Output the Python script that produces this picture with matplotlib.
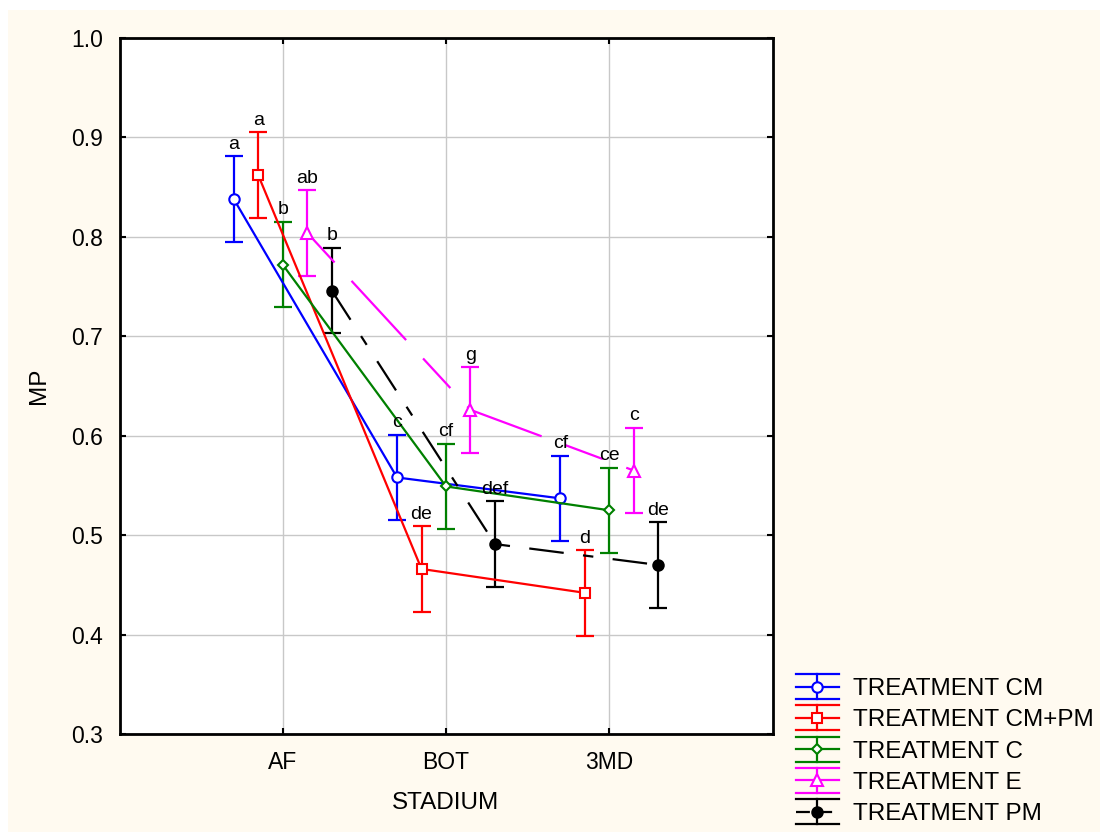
#!/usr/bin/env python3
"""MP by stadium for five treatments, means with error bars and group letters."""

import matplotlib

matplotlib.use("Agg")
import matplotlib.pyplot as plt
from matplotlib.legend_handler import HandlerBase
from matplotlib.lines import Line2D
from matplotlib.patches import Rectangle

plt.rcParams["font.family"] = ["Liberation Sans", "DejaVu Sans"]
plt.rcParams["lines.scale_dashes"] = False

STADIA = ["AF", "BOT", "3MD"]
TREATMENTS = ["TREATMENT CM", "TREATMENT CM+PM", "TREATMENT C", "TREATMENT E", "TREATMENT PM"]

cm_mean = [0.838, 0.558, 0.537]
cm_err = [0.043, 0.043, 0.043]
cmpm_mean = [0.862, 0.466, 0.442]
cmpm_err = [0.043, 0.043, 0.043]
c_mean = [0.772, 0.549, 0.525]
c_err = [0.043, 0.043, 0.043]
e_mean = [0.804, 0.626, 0.565]
e_err = [0.043, 0.043, 0.043]
pm_mean = [0.746, 0.491, 0.470]
pm_err = [0.043, 0.043, 0.043]

cm_letters = ["a", "c", "cf"]
cmpm_letters = ["a", "de", "d"]
c_letters = ["b", "cf", "ce"]
e_letters = ["ab", "g", "c"]
pm_letters = ["b", "def", "de"]

# (color, marker, face, markersize, dashes, x offset)
STYLES = [
    ("#0000FF", "o", "none", 7.5, None, -0.30),
    ("#FF0000", "s", "none", 7, None, -0.15),
    ("#008000", "D", "none", 5.5, None, 0.0),
    ("#FF00FF", "^", "none", 8, (0, (29, 18, 58, 18)), 0.15),
    ("#000000", "o", "#000000", 7.5, (0, (25, 14, 7.5, 14)), 0.30),
]


class ErrbarHandler(HandlerBase):
    """Legend key: line through an error bar whose caps span the key."""

    def create_artists(self, legend, orig_handle, xdescent, ydescent, width, height, fontsize, trans):
        x0, x1 = -xdescent, -xdescent + width
        xm = (x0 + x1) / 2
        yc = -ydescent + height / 2
        half = 9.0
        color = orig_handle.get_color()
        lw = orig_handle.get_linewidth()
        arts = [
            Line2D([x0, x1], [yc + half, yc + half], color=color, lw=lw),
            Line2D([x0, x1], [yc - half, yc - half], color=color, lw=lw),
            Line2D([xm, xm], [yc - half, yc + half], color=color, lw=lw),
        ]
        mid = Line2D([x0, x1], [yc, yc])
        mid.update_from(orig_handle)
        mid.set_marker("")
        if orig_handle.get_label() == "TREATMENT PM":
            mid.set_linestyle((0, (10, 6)))
        else:
            mid.set_linestyle("-")
        arts.append(mid)
        mk = Line2D([xm], [yc], linestyle="none")
        mk.update_from(orig_handle)
        mk.set_linestyle("none")
        arts.append(mk)
        for a in arts:
            a.set_transform(trans)
            a.set_clip_box(None)
            a.set_clip_path(None)
            a.set_clip_on(False)
        return arts


fig = plt.figure(figsize=(11, 8.32), dpi=100, facecolor="white")
fig.patches.append(Rectangle((8 / 1100, 0), 1, 1 - 10 / 832, transform=fig.transFigure,
                             facecolor="#FFFAF0", edgecolor="none", zorder=-10))
ax = fig.add_axes([119.5 / 1100, 98 / 832, 653 / 1100, 696 / 832])
ax.set_facecolor("white")

series = [
    (cm_mean, cm_err, cm_letters),
    (cmpm_mean, cmpm_err, cmpm_letters),
    (c_mean, c_err, c_letters),
    (e_mean, e_err, e_letters),
    (pm_mean, pm_err, pm_letters),
]

handles = []
for (mean, err, letters), label, style in zip(series, TREATMENTS, STYLES):
    color, marker, face, ms, dashes, off = style
    xs = [i + 1 + off for i in range(len(STADIA))]
    ax.errorbar(xs, mean, yerr=err, fmt="none", ecolor=color, elinewidth=1.6,
                capsize=6.5, capthick=1.6, zorder=3)
    line, = ax.plot(xs, mean, color=color, lw=1.6, marker=marker, ms=ms,
                    mfc="white" if face == "none" else face, mec=color, mew=1.5,
                    label=label, zorder=4)
    if dashes is not None:
        line.set_linestyle(dashes)
    handles.append(line)
    for x, m, e, txt in zip(xs, mean, err, letters):
        ax.annotate(txt, (x, m + e), xytext=(0, 2.5), textcoords="offset points",
                    ha="center", va="bottom", fontsize=14, color="#000000", zorder=5)

ax.set_xlim(0, 4)
ax.set_ylim(0.3, 1.0)
ax.set_xticks([1, 2, 3])
ax.set_xticklabels(STADIA)
ax.set_yticks([0.3, 0.4, 0.5, 0.6, 0.7, 0.8, 0.9, 1.0])
ax.set_yticklabels([f"{v:.1f}" for v in ax.get_yticks()])
ax.tick_params(direction="in", length=4, width=1.5, top=True, right=True,
               labelsize=16.5, color="black")
ax.tick_params(axis="x", pad=12)
ax.tick_params(axis="y", pad=12)
ax.grid(True, color="#C8C8C8", lw=1.0)
ax.set_axisbelow(True)
for sp in ax.spines.values():
    sp.set_linewidth(2)

ax.set_xlabel("STADIUM", fontsize=17.5)
ax.set_ylabel("MP", fontsize=17.5)
ax.xaxis.set_label_coords(0.5, -0.083)
ax.yaxis.set_label_coords(-0.106, 0.5)

fig.legend(handles=handles, labels=TREATMENTS, handler_map={Line2D: ErrbarHandler()},
           loc="upper left", bbox_to_anchor=(796 / 1100, 1 - 678 / 832),
           frameon=False, fontsize=17.5, handlelength=1.75, handletextpad=0.6,
           labelspacing=0.38, borderpad=0, borderaxespad=0)

fig.savefig("out.png", dpi=100, facecolor=fig.get_facecolor())
